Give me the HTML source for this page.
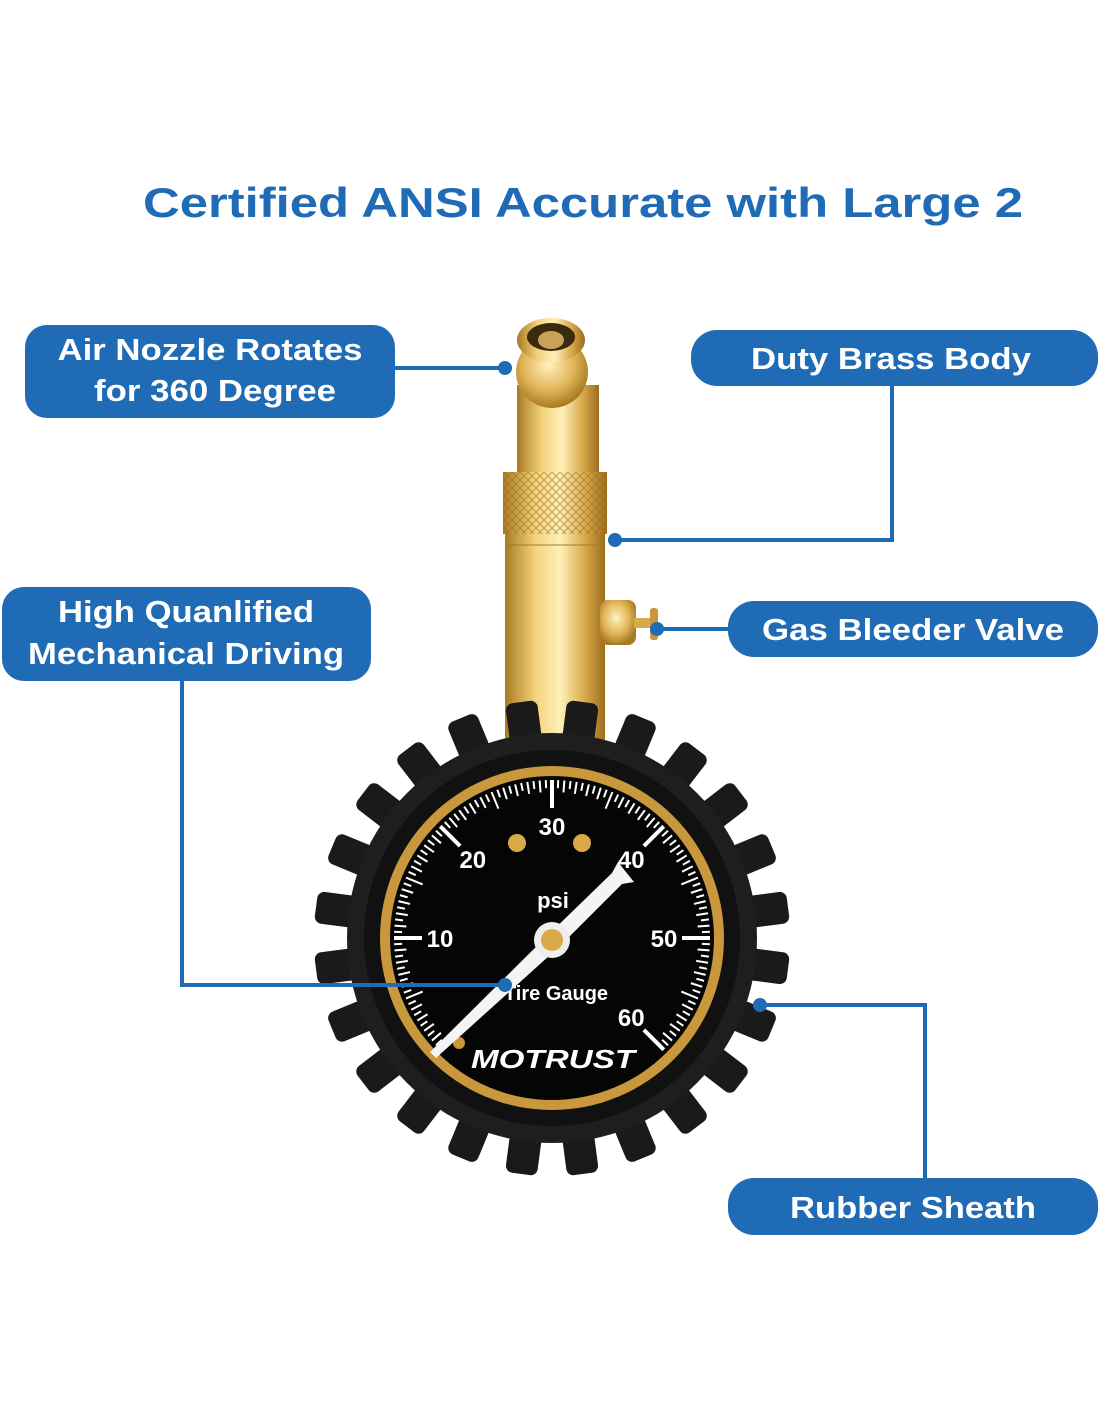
<!DOCTYPE html>
<html><head><meta charset="utf-8"><style>
html,body{margin:0;padding:0;background:#fff;}
svg{display:block;}
text{font-family:"Liberation Sans",Arial,sans-serif;font-weight:bold;}
</style></head><body>
<svg id="s" width="1100" height="1422" viewBox="0 0 1100 1422" xmlns="http://www.w3.org/2000/svg">
<defs>
<linearGradient id="brass" x1="0" x2="1" y1="0" y2="0">
<stop offset="0" stop-color="#a87a22"/><stop offset="0.3" stop-color="#f3d27a"/><stop offset="0.55" stop-color="#fff0b8"/><stop offset="0.8" stop-color="#d9a94a"/><stop offset="1" stop-color="#9a6d1c"/>
</linearGradient>
<radialGradient id="head" cx="0.45" cy="0.4" r="0.6">
<stop offset="0" stop-color="#fff2c0"/><stop offset="0.6" stop-color="#e2b456"/><stop offset="1" stop-color="#a87a22"/>
</radialGradient>
<pattern id="knurl" width="8" height="8" patternUnits="userSpaceOnUse">
<rect width="8" height="8" fill="none"/>
<path d="M0 0L8 8M8 0L0 8" stroke="#9a6d1c" stroke-width="1" opacity="0.6"/>
</pattern>
</defs>

<text x="583" y="217" text-anchor="middle" font-size="42" fill="#1f6bb5" textLength="880" lengthAdjust="spacingAndGlyphs">Certified ANSI Accurate with Large 2</text>

<!-- brass stem -->
<rect x="505" y="530" width="100" height="215" fill="url(#brass)"/>
<rect x="517" y="385" width="82" height="90" fill="url(#brass)"/>
<rect x="503" y="472" width="104" height="62" fill="url(#brass)"/>
<rect x="503" y="472" width="104" height="62" fill="url(#knurl)"/>
<line x1="505" y1="545" x2="605" y2="545" stroke="#a87a22" stroke-width="1"/>
<circle cx="552" cy="372" r="36" fill="url(#head)"/>
<ellipse cx="551" cy="340" rx="34" ry="22" fill="url(#brass)"/>
<ellipse cx="551" cy="337" rx="24" ry="14" fill="#3a2a10"/>
<ellipse cx="551" cy="340" rx="13" ry="9" fill="#c9a257"/>
<!-- bleeder -->
<rect x="600" y="600" width="36" height="45" rx="8" fill="url(#head)"/>
<rect x="634" y="618" width="20" height="10" fill="#d9a94a"/>
<rect x="650" y="608" width="8" height="32" rx="3" fill="#c9963c"/>

<g id="gauge"></g>

<!-- connectors -->
<g stroke="#1f6bb5" stroke-width="4" fill="none">
<path d="M395 368H505"/>
<path d="M892 386V540H615"/>
<path d="M182 681V985H505"/>
<path d="M728 629H657"/>
<path d="M925 1178V1005H760"/>
</g>
<g fill="#1f6bb5">
<circle cx="505" cy="368" r="7"/><circle cx="615" cy="540" r="7"/><circle cx="505" cy="985" r="7"/><circle cx="657" cy="629" r="7"/><circle cx="760" cy="1005" r="7"/>
</g>

<!-- boxes -->
<g fill="#1f6bb5">
<rect x="25" y="325" width="370" height="93" rx="22"/>
<rect x="691" y="330" width="407" height="56" rx="26"/>
<rect x="2" y="587" width="369" height="94" rx="22"/>
<rect x="728" y="601" width="370" height="56" rx="26"/>
<rect x="728" y="1178" width="370" height="57" rx="26"/>
</g>
<g fill="#fff" font-size="31" text-anchor="middle">
<text x="210" y="360" textLength="305" lengthAdjust="spacingAndGlyphs">Air Nozzle Rotates</text>
<text x="215" y="401" textLength="242" lengthAdjust="spacingAndGlyphs">for 360 Degree</text>
<text x="891" y="369" textLength="280" lengthAdjust="spacingAndGlyphs">Duty Brass Body</text>
<text x="186" y="622" textLength="256" lengthAdjust="spacingAndGlyphs">High Quanlified</text>
<text x="186" y="664" textLength="316" lengthAdjust="spacingAndGlyphs">Mechanical Driving</text>
<text x="913" y="640" textLength="302" lengthAdjust="spacingAndGlyphs">Gas Bleeder Valve</text>
<text x="913" y="1218" textLength="246" lengthAdjust="spacingAndGlyphs">Rubber Sheath</text>
</g>
</svg>
<script>
(function(){
var NS="http://www.w3.org/2000/svg",g=document.getElementById("gauge");
function el(t,a,p){var e=document.createElementNS(NS,t);for(var k in a)e.setAttribute(k,a[k]);(p||g).appendChild(e);return e;}
var cx=552,cy=938;
for(var i=0;i<24;i++){var a=i*15+7.5;
el("rect",{x:cx-16,y:cy-238,width:32,height:70,rx:7,fill:"#1a1a1a",transform:"rotate("+a+" "+cx+" "+cy+")"});}
el("circle",{cx:cx,cy:cy,r:205,fill:"#1e1e1e"});
el("circle",{cx:cx,cy:cy,r:188,fill:"#111"});
el("circle",{cx:cx,cy:cy,r:172,fill:"#c9973c"});
el("circle",{cx:cx,cy:cy,r:162,fill:"#050505"});
for(var p=0;p<=60;p+=0.5){var th=(225-p*4.5)*Math.PI/180,c=Math.cos(th),s=Math.sin(th);
var maj=(p%10==0),mid=(p%5==0),r2=158,r1=maj?130:(mid?140:(p%1==0?146:150));
el("line",{x1:cx+r1*c,y1:cy-r1*s,x2:cx+r2*c,y2:cy-r2*s,stroke:"#fff","stroke-width":maj?4:2});
if(maj&&p>0){var r3=112;var t=el("text",{x:cx+r3*c,y:cy-r3*s+9,"text-anchor":"middle","font-size":"24",fill:"#fff","font-weight":"normal"});t.textContent=p;}}
el("circle",{cx:517,cy:843,r:9,fill:"#d9a94a"});
el("circle",{cx:582,cy:843,r:9,fill:"#d9a94a"});
el("circle",{cx:459,cy:1043,r:6,fill:"#c9963c"});
var t=el("text",{x:553,y:908,"text-anchor":"middle","font-size":"22",fill:"#fff","font-weight":"normal"});t.textContent="psi";
t=el("text",{x:556,y:1000,"text-anchor":"middle","font-size":"20",fill:"#fff"});t.textContent="Tire Gauge";
t=el("text",{x:553,y:1068,"text-anchor":"middle","font-size":"26",fill:"#fff","font-style":"italic","textLength":"164","lengthAdjust":"spacingAndGlyphs"});t.textContent="MOTRUST";
el("polygon",{points:"430,1052 545,938 612,873 618,862 634,882 622,884 560,946 436,1058",fill:"#f4f4f4"});
el("circle",{cx:cx,cy:940,r:18,fill:"#eee"});
el("circle",{cx:cx,cy:940,r:11,fill:"#d9a94a"});
})();
</script>
</body></html>
